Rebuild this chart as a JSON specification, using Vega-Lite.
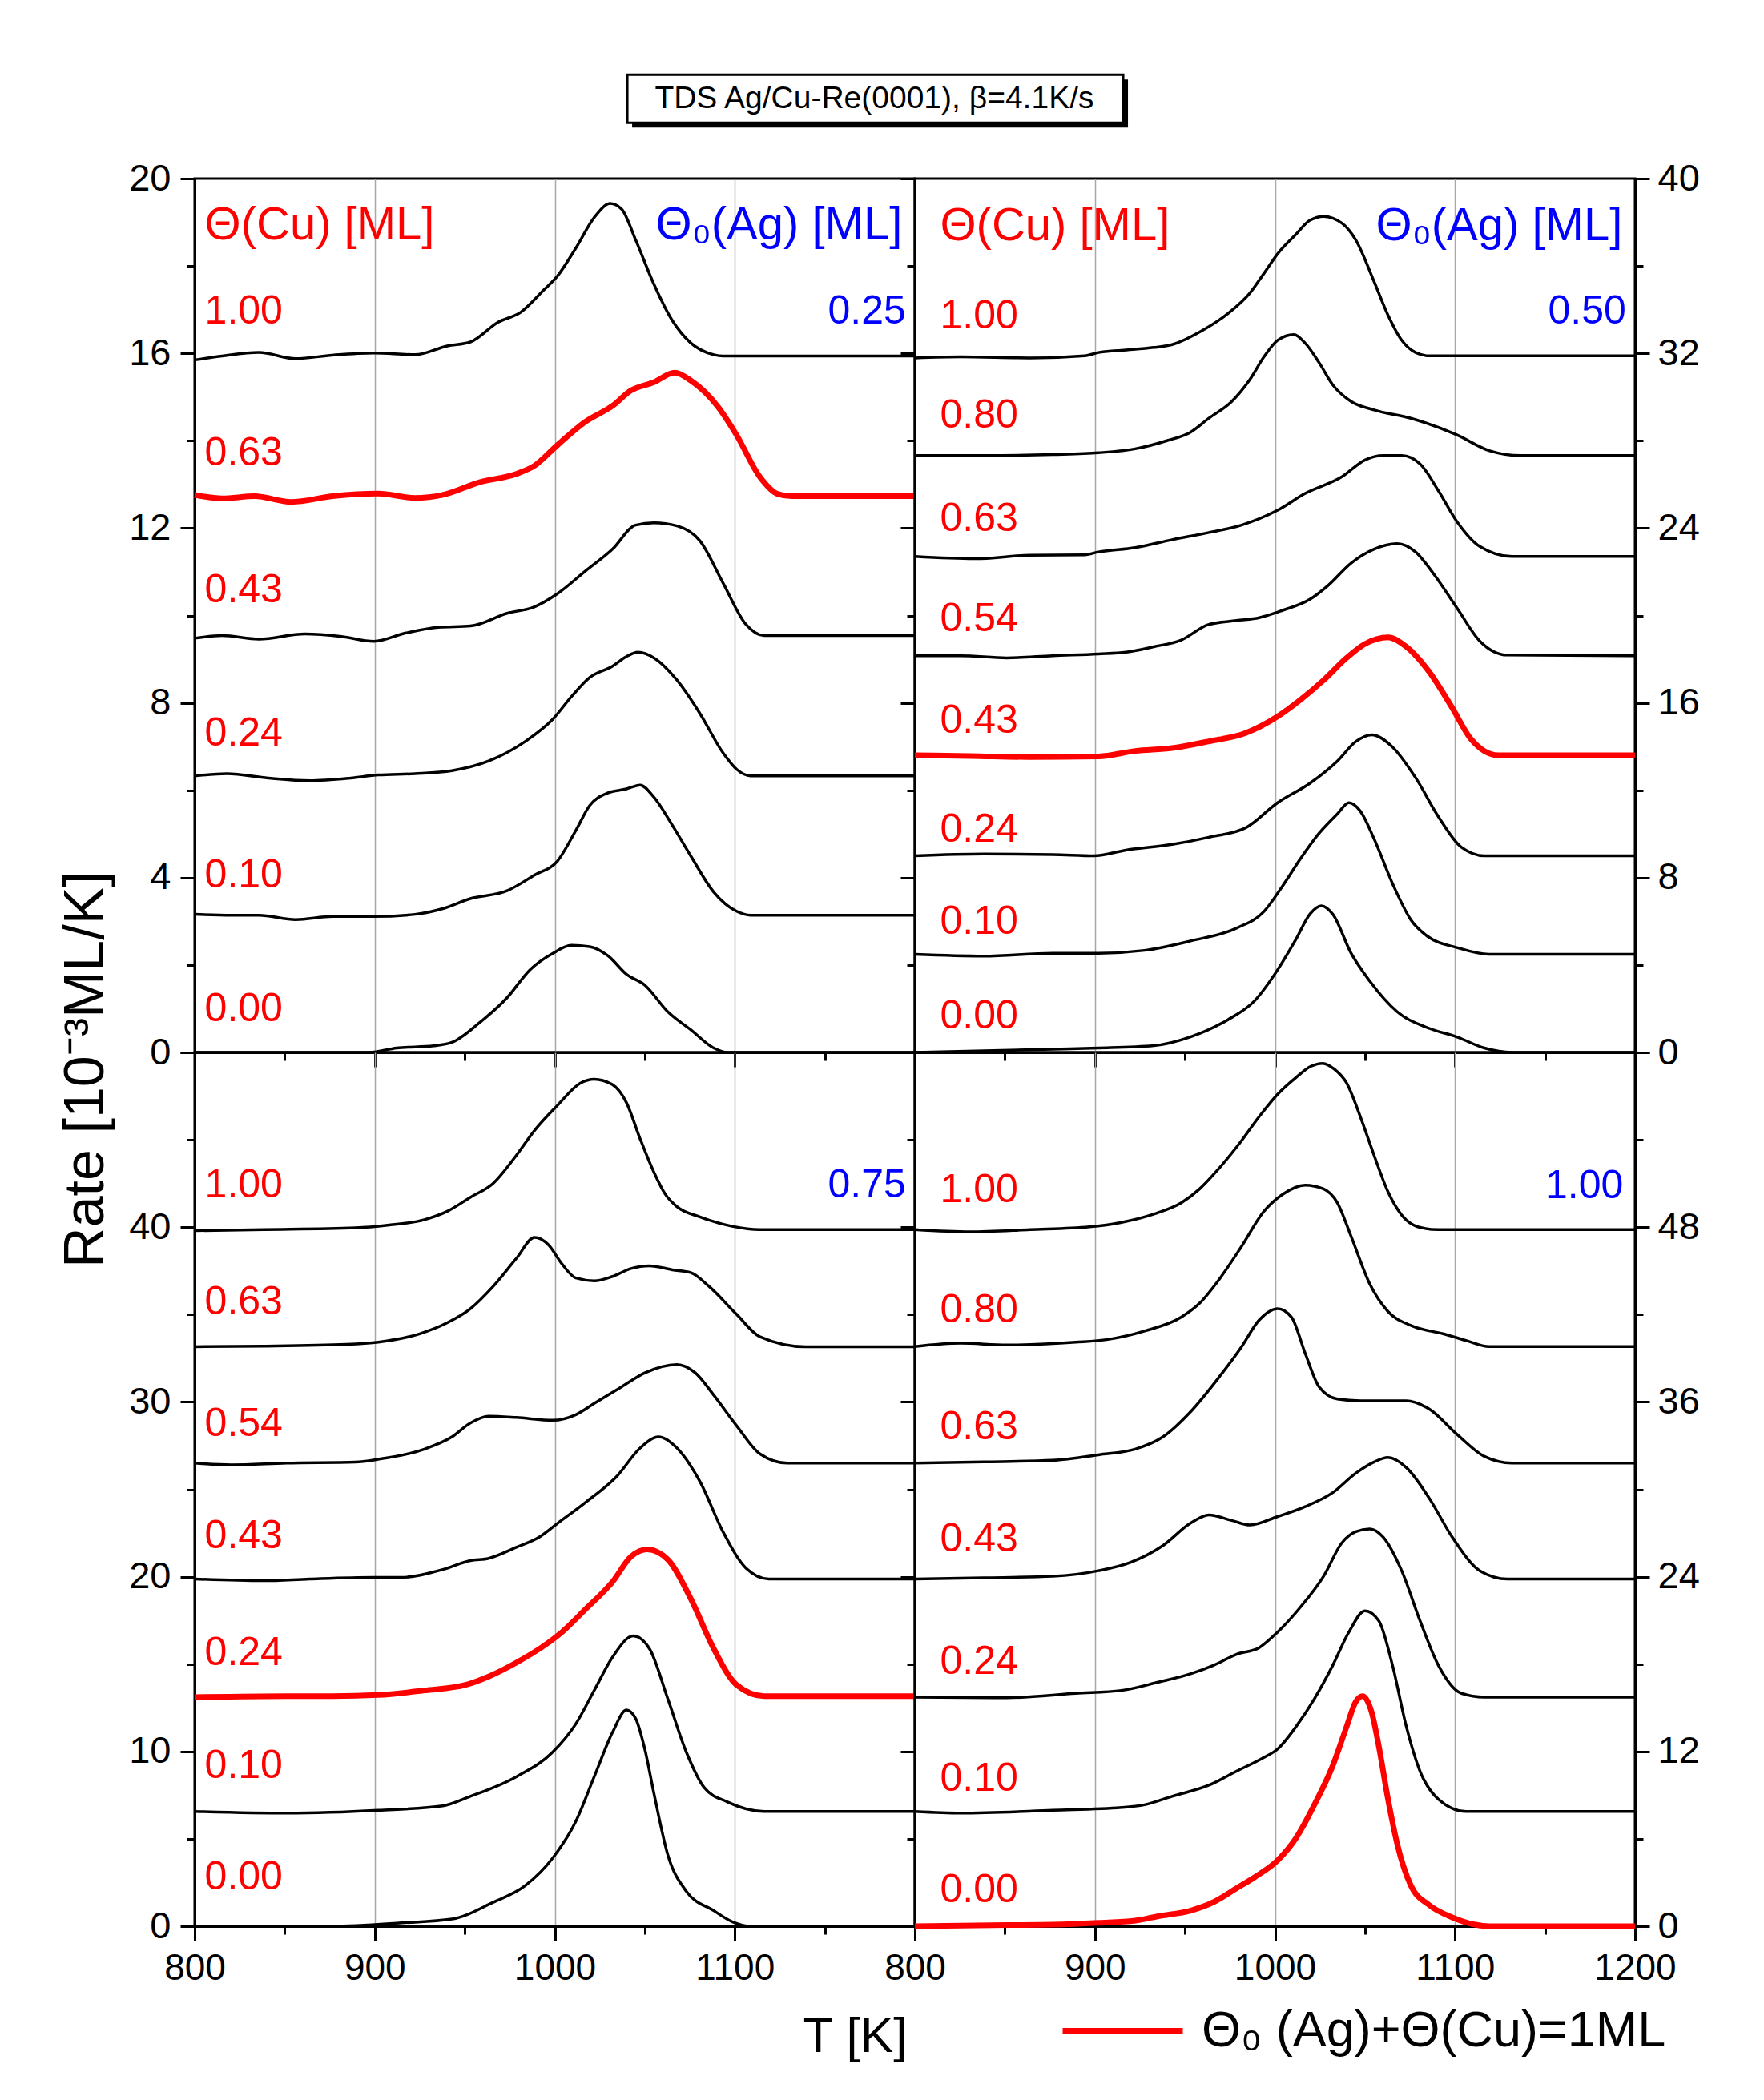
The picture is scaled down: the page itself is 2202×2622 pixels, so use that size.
{
"$schema": "https://vega.github.io/schema/vega-lite/v6.json",
"padding": {"left": 70, "top": 90, "right": 30, "bottom": 5},
"background": "white",
"spacing": 0,
"bounds": "flush",
"columns": 2,
"datasets": {
"tl": [
{"c":"1.00","s":"o","T":800,"r":15.85},{"c":"1.00","s":"o","T":815.3,"r":15.94},{"c":"1.00","s":"o","T":835.7,"r":16.02},{"c":"1.00","s":"o","T":856.1,"r":15.88},{"c":"1.00","s":"o","T":876.5,"r":15.96},{"c":"1.00","s":"o","T":899.5,"r":16.01},{"c":"1.00","s":"o","T":922.4,"r":15.97},{"c":"1.00","s":"o","T":940.3,"r":16.17},{"c":"1.00","s":"o","T":953.1,"r":16.26},{"c":"1.00","s":"o","T":968.4,"r":16.71},{"c":"1.00","s":"o","T":981.1,"r":16.94},{"c":"1.00","s":"o","T":993.9,"r":17.45},{"c":"1.00","s":"o","T":1001.5,"r":17.77},{"c":"1.00","s":"o","T":1011.7,"r":18.41},{"c":"1.00","s":"o","T":1021.9,"r":19.11},{"c":"1.00","s":"o","T":1030.9,"r":19.43},{"c":"1.00","s":"o","T":1037.2,"r":19.3},{"c":"1.00","s":"o","T":1044.9,"r":18.6},{"c":"1.00","s":"o","T":1055.1,"r":17.58},{"c":"1.00","s":"o","T":1065.3,"r":16.75},{"c":"1.00","s":"o","T":1075.5,"r":16.24},{"c":"1.00","s":"o","T":1088.3,"r":15.97},{"c":"1.00","s":"o","T":1093.4,"r":15.94},{"c":"1.00","s":"o","T":1200,"r":15.94},
{"c":"0.63","s":"1ML","T":800,"r":12.76},{"c":"0.63","s":"1ML","T":815.3,"r":12.68},{"c":"0.63","s":"1ML","T":833.2,"r":12.73},{"c":"0.63","s":"1ML","T":853.6,"r":12.6},{"c":"0.63","s":"1ML","T":876.5,"r":12.73},{"c":"0.63","s":"1ML","T":902,"r":12.79},{"c":"0.63","s":"1ML","T":922.4,"r":12.69},{"c":"0.63","s":"1ML","T":937.8,"r":12.76},{"c":"0.63","s":"1ML","T":958.2,"r":13.05},{"c":"0.63","s":"1ML","T":978.6,"r":13.24},{"c":"0.63","s":"1ML","T":988.8,"r":13.43},{"c":"0.63","s":"1ML","T":1001.5,"r":13.9},{"c":"0.63","s":"1ML","T":1016.8,"r":14.43},{"c":"0.63","s":"1ML","T":1032.1,"r":14.8},{"c":"0.63","s":"1ML","T":1042.3,"r":15.15},{"c":"0.63","s":"1ML","T":1055.1,"r":15.34},{"c":"0.63","s":"1ML","T":1066.6,"r":15.56},{"c":"0.63","s":"1ML","T":1075.5,"r":15.38},{"c":"0.63","s":"1ML","T":1090.8,"r":14.77},{"c":"0.63","s":"1ML","T":1101,"r":14.13},{"c":"0.63","s":"1ML","T":1113.8,"r":13.18},{"c":"0.63","s":"1ML","T":1124,"r":12.78},{"c":"0.63","s":"1ML","T":1131.6,"r":12.73},{"c":"0.63","s":"1ML","T":1200,"r":12.73},
{"c":"0.43","s":"o","T":800,"r":9.48},{"c":"0.43","s":"o","T":815.3,"r":9.54},{"c":"0.43","s":"o","T":835.7,"r":9.46},{"c":"0.43","s":"o","T":861.2,"r":9.58},{"c":"0.43","s":"o","T":881.6,"r":9.52},{"c":"0.43","s":"o","T":899.5,"r":9.41},{"c":"0.43","s":"o","T":917.3,"r":9.6},{"c":"0.43","s":"o","T":935.2,"r":9.73},{"c":"0.43","s":"o","T":953.1,"r":9.76},{"c":"0.43","s":"o","T":973.5,"r":10.05},{"c":"0.43","s":"o","T":988.8,"r":10.2},{"c":"0.43","s":"o","T":1001.5,"r":10.5},{"c":"0.43","s":"o","T":1016.8,"r":11.01},{"c":"0.43","s":"o","T":1032.1,"r":11.52},{"c":"0.43","s":"o","T":1044.9,"r":12.07},{"c":"0.43","s":"o","T":1055.1,"r":12.12},{"c":"0.43","s":"o","T":1067.9,"r":12.05},{"c":"0.43","s":"o","T":1080.6,"r":11.71},{"c":"0.43","s":"o","T":1093.4,"r":10.75},{"c":"0.43","s":"o","T":1106.1,"r":9.8},{"c":"0.43","s":"o","T":1116.3,"r":9.54},{"c":"0.43","s":"o","T":1200,"r":9.54},
{"c":"0.24","s":"o","T":800,"r":6.33},{"c":"0.24","s":"o","T":817.9,"r":6.38},{"c":"0.24","s":"o","T":840.8,"r":6.28},{"c":"0.24","s":"o","T":863.8,"r":6.22},{"c":"0.24","s":"o","T":886.7,"r":6.28},{"c":"0.24","s":"o","T":902,"r":6.35},{"c":"0.24","s":"o","T":922.4,"r":6.38},{"c":"0.24","s":"o","T":942.9,"r":6.45},{"c":"0.24","s":"o","T":963.3,"r":6.67},{"c":"0.24","s":"o","T":983.7,"r":7.12},{"c":"0.24","s":"o","T":999,"r":7.63},{"c":"0.24","s":"o","T":1009.2,"r":8.14},{"c":"0.24","s":"o","T":1019.4,"r":8.58},{"c":"0.24","s":"o","T":1032.1,"r":8.84},{"c":"0.24","s":"o","T":1039.8,"r":9.06},{"c":"0.24","s":"o","T":1046.2,"r":9.16},{"c":"0.24","s":"o","T":1055.1,"r":9.03},{"c":"0.24","s":"o","T":1067.9,"r":8.52},{"c":"0.24","s":"o","T":1080.6,"r":7.76},{"c":"0.24","s":"o","T":1093.4,"r":6.86},{"c":"0.24","s":"o","T":1101,"r":6.48},{"c":"0.24","s":"o","T":1108.7,"r":6.33},{"c":"0.24","s":"o","T":1200,"r":6.33},
{"c":"0.10","s":"o","T":800,"r":3.16},{"c":"0.10","s":"o","T":820.4,"r":3.14},{"c":"0.10","s":"o","T":835.7,"r":3.14},{"c":"0.10","s":"o","T":856.1,"r":3.04},{"c":"0.10","s":"o","T":876.5,"r":3.11},{"c":"0.10","s":"o","T":899.5,"r":3.11},{"c":"0.10","s":"o","T":922.4,"r":3.16},{"c":"0.10","s":"o","T":937.8,"r":3.29},{"c":"0.10","s":"o","T":953.1,"r":3.52},{"c":"0.10","s":"o","T":973.5,"r":3.7},{"c":"0.10","s":"o","T":988.8,"r":4.06},{"c":"0.10","s":"o","T":1001.5,"r":4.38},{"c":"0.10","s":"o","T":1011.7,"r":5.08},{"c":"0.10","s":"o","T":1019.4,"r":5.65},{"c":"0.10","s":"o","T":1029.6,"r":5.94},{"c":"0.10","s":"o","T":1039.8,"r":6.03},{"c":"0.10","s":"o","T":1047.4,"r":6.12},{"c":"0.10","s":"o","T":1055.1,"r":5.84},{"c":"0.10","s":"o","T":1065.3,"r":5.2},{"c":"0.10","s":"o","T":1075.5,"r":4.5},{"c":"0.10","s":"o","T":1088.3,"r":3.67},{"c":"0.10","s":"o","T":1101,"r":3.23},{"c":"0.10","s":"o","T":1108.7,"r":3.14},{"c":"0.10","s":"o","T":1200,"r":3.14},
{"c":"0.00","s":"o","T":800,"r":0},{"c":"0.00","s":"o","T":863.8,"r":0},{"c":"0.00","s":"o","T":896.9,"r":0},{"c":"0.00","s":"o","T":912.2,"r":0.1},{"c":"0.00","s":"o","T":932.7,"r":0.15},{"c":"0.00","s":"o","T":942.9,"r":0.23},{"c":"0.00","s":"o","T":958.2,"r":0.68},{"c":"0.00","s":"o","T":973.5,"r":1.25},{"c":"0.00","s":"o","T":986.2,"r":1.89},{"c":"0.00","s":"o","T":999,"r":2.27},{"c":"0.00","s":"o","T":1009.2,"r":2.45},{"c":"0.00","s":"o","T":1019.4,"r":2.42},{"c":"0.00","s":"o","T":1029.6,"r":2.21},{"c":"0.00","s":"o","T":1039.8,"r":1.79},{"c":"0.00","s":"o","T":1050,"r":1.54},{"c":"0.00","s":"o","T":1062.8,"r":0.93},{"c":"0.00","s":"o","T":1075.5,"r":0.52},{"c":"0.00","s":"o","T":1088.3,"r":0.1},{"c":"0.00","s":"o","T":1095.9,"r":0},{"c":"0.00","s":"o","T":1200,"r":0}
],
"tr": [
{"c":"1.00","s":"o","T":800,"r":31.79},{"c":"1.00","s":"o","T":825.5,"r":31.84},{"c":"1.00","s":"o","T":863.8,"r":31.79},{"c":"1.00","s":"o","T":894.4,"r":31.89},{"c":"1.00","s":"o","T":902,"r":32.04},{"c":"1.00","s":"o","T":914.8,"r":32.14},{"c":"1.00","s":"o","T":932.7,"r":32.27},{"c":"1.00","s":"o","T":942.9,"r":32.4},{"c":"1.00","s":"o","T":958.2,"r":32.98},{"c":"1.00","s":"o","T":973.5,"r":33.8},{"c":"1.00","s":"o","T":986.2,"r":34.77},{"c":"1.00","s":"o","T":993.9,"r":35.66},{"c":"1.00","s":"o","T":1001.5,"r":36.56},{"c":"1.00","s":"o","T":1011.7,"r":37.45},{"c":"1.00","s":"o","T":1019.4,"r":38.09},{"c":"1.00","s":"o","T":1027,"r":38.27},{"c":"1.00","s":"o","T":1037.2,"r":37.96},{"c":"1.00","s":"o","T":1044.9,"r":37.19},{"c":"1.00","s":"o","T":1055.1,"r":35.28},{"c":"1.00","s":"o","T":1062.8,"r":33.75},{"c":"1.00","s":"o","T":1070.4,"r":32.6},{"c":"1.00","s":"o","T":1078.1,"r":32.04},{"c":"1.00","s":"o","T":1085.7,"r":31.89},{"c":"1.00","s":"o","T":1200,"r":31.89},
{"c":"0.80","s":"o","T":800,"r":27.32},{"c":"0.80","s":"o","T":838.3,"r":27.32},{"c":"0.80","s":"o","T":876.5,"r":27.37},{"c":"0.80","s":"o","T":902,"r":27.45},{"c":"0.80","s":"o","T":922.4,"r":27.63},{"c":"0.80","s":"o","T":940.3,"r":28.01},{"c":"0.80","s":"o","T":953.1,"r":28.39},{"c":"0.80","s":"o","T":963.3,"r":29.03},{"c":"0.80","s":"o","T":976,"r":29.8},{"c":"0.80","s":"o","T":986.2,"r":30.82},{"c":"0.80","s":"o","T":993.9,"r":31.84},{"c":"0.80","s":"o","T":1001.5,"r":32.6},{"c":"0.80","s":"o","T":1010.5,"r":32.86},{"c":"0.80","s":"o","T":1016.8,"r":32.47},{"c":"0.80","s":"o","T":1024.5,"r":31.58},{"c":"0.80","s":"o","T":1032.1,"r":30.56},{"c":"0.80","s":"o","T":1042.3,"r":29.8},{"c":"0.80","s":"o","T":1055.1,"r":29.41},{"c":"0.80","s":"o","T":1075.5,"r":29.03},{"c":"0.80","s":"o","T":1101,"r":28.27},{"c":"0.80","s":"o","T":1118.9,"r":27.55},{"c":"0.80","s":"o","T":1136.7,"r":27.32},{"c":"0.80","s":"o","T":1200,"r":27.32},
{"c":"0.63","s":"o","T":800,"r":22.7},{"c":"0.63","s":"o","T":833.2,"r":22.6},{"c":"0.63","s":"o","T":863.8,"r":22.76},{"c":"0.63","s":"o","T":894.4,"r":22.78},{"c":"0.63","s":"o","T":902,"r":22.91},{"c":"0.63","s":"o","T":922.4,"r":23.11},{"c":"0.63","s":"o","T":942.9,"r":23.47},{"c":"0.63","s":"o","T":963.3,"r":23.8},{"c":"0.63","s":"o","T":981.1,"r":24.13},{"c":"0.63","s":"o","T":1001.5,"r":24.82},{"c":"0.63","s":"o","T":1016.8,"r":25.59},{"c":"0.63","s":"o","T":1037.2,"r":26.35},{"c":"0.63","s":"o","T":1050,"r":27.12},{"c":"0.63","s":"o","T":1060.2,"r":27.32},{"c":"0.63","s":"o","T":1070.4,"r":27.32},{"c":"0.63","s":"o","T":1080.6,"r":26.94},{"c":"0.63","s":"o","T":1090.8,"r":25.71},{"c":"0.63","s":"o","T":1101,"r":24.31},{"c":"0.63","s":"o","T":1113.8,"r":23.16},{"c":"0.63","s":"o","T":1131.6,"r":22.7},{"c":"0.63","s":"o","T":1200,"r":22.7},
{"c":"0.54","s":"o","T":800,"r":18.16},{"c":"0.54","s":"o","T":825.5,"r":18.16},{"c":"0.54","s":"o","T":851,"r":18.06},{"c":"0.54","s":"o","T":876.5,"r":18.16},{"c":"0.54","s":"o","T":902,"r":18.24},{"c":"0.54","s":"o","T":917.3,"r":18.32},{"c":"0.54","s":"o","T":932.7,"r":18.57},{"c":"0.54","s":"o","T":948,"r":18.88},{"c":"0.54","s":"o","T":963.3,"r":19.59},{"c":"0.54","s":"o","T":978.6,"r":19.77},{"c":"0.54","s":"o","T":991.3,"r":19.9},{"c":"0.54","s":"o","T":1004.1,"r":20.23},{"c":"0.54","s":"o","T":1019.4,"r":20.74},{"c":"0.54","s":"o","T":1029.6,"r":21.38},{"c":"0.54","s":"o","T":1042.3,"r":22.4},{"c":"0.54","s":"o","T":1055.1,"r":23.04},{"c":"0.54","s":"o","T":1067.9,"r":23.29},{"c":"0.54","s":"o","T":1078.1,"r":22.91},{"c":"0.54","s":"o","T":1088.3,"r":21.89},{"c":"0.54","s":"o","T":1101,"r":20.36},{"c":"0.54","s":"o","T":1113.8,"r":18.83},{"c":"0.54","s":"o","T":1129.1,"r":18.19},{"c":"0.54","s":"o","T":1200,"r":18.16},
{"c":"0.43","s":"1ML","T":800,"r":13.6},{"c":"0.43","s":"1ML","T":830.6,"r":13.57},{"c":"0.43","s":"1ML","T":863.8,"r":13.52},{"c":"0.43","s":"1ML","T":902,"r":13.55},{"c":"0.43","s":"1ML","T":922.4,"r":13.8},{"c":"0.43","s":"1ML","T":942.9,"r":13.93},{"c":"0.43","s":"1ML","T":963.3,"r":14.24},{"c":"0.43","s":"1ML","T":983.7,"r":14.62},{"c":"0.43","s":"1ML","T":1001.5,"r":15.38},{"c":"0.43","s":"1ML","T":1014.3,"r":16.15},{"c":"0.43","s":"1ML","T":1027,"r":17.04},{"c":"0.43","s":"1ML","T":1039.8,"r":18.06},{"c":"0.43","s":"1ML","T":1050,"r":18.7},{"c":"0.43","s":"1ML","T":1062.8,"r":19.0},{"c":"0.43","s":"1ML","T":1073,"r":18.57},{"c":"0.43","s":"1ML","T":1085.7,"r":17.42},{"c":"0.43","s":"1ML","T":1098.5,"r":15.77},{"c":"0.43","s":"1ML","T":1108.7,"r":14.36},{"c":"0.43","s":"1ML","T":1124,"r":13.6},{"c":"0.43","s":"1ML","T":1200,"r":13.6},
{"c":"0.24","s":"o","T":800,"r":9.0},{"c":"0.24","s":"o","T":838.3,"r":9.08},{"c":"0.24","s":"o","T":876.5,"r":9.06},{"c":"0.24","s":"o","T":899.5,"r":9.0},{"c":"0.24","s":"o","T":917.3,"r":9.26},{"c":"0.24","s":"o","T":942.9,"r":9.52},{"c":"0.24","s":"o","T":963.3,"r":9.85},{"c":"0.24","s":"o","T":983.7,"r":10.28},{"c":"0.24","s":"o","T":1001.5,"r":11.43},{"c":"0.24","s":"o","T":1019.4,"r":12.32},{"c":"0.24","s":"o","T":1034.7,"r":13.34},{"c":"0.24","s":"o","T":1044.9,"r":14.23},{"c":"0.24","s":"o","T":1053.8,"r":14.54},{"c":"0.24","s":"o","T":1065.3,"r":13.98},{"c":"0.24","s":"o","T":1078.1,"r":12.58},{"c":"0.24","s":"o","T":1090.8,"r":10.79},{"c":"0.24","s":"o","T":1103.6,"r":9.39},{"c":"0.24","s":"o","T":1116.3,"r":9.0},{"c":"0.24","s":"o","T":1200,"r":9.0},
{"c":"0.10","s":"o","T":800,"r":4.49},{"c":"0.10","s":"o","T":838.3,"r":4.41},{"c":"0.10","s":"o","T":876.5,"r":4.54},{"c":"0.10","s":"o","T":902,"r":4.54},{"c":"0.10","s":"o","T":927.6,"r":4.67},{"c":"0.10","s":"o","T":953.1,"r":5.1},{"c":"0.10","s":"o","T":978.6,"r":5.69},{"c":"0.10","s":"o","T":993.9,"r":6.45},{"c":"0.10","s":"o","T":1004.1,"r":7.6},{"c":"0.10","s":"o","T":1014.3,"r":8.88},{"c":"0.10","s":"o","T":1024.5,"r":10.03},{"c":"0.10","s":"o","T":1034.7,"r":10.92},{"c":"0.10","s":"o","T":1041.1,"r":11.43},{"c":"0.10","s":"o","T":1047.4,"r":11.05},{"c":"0.10","s":"o","T":1055.1,"r":9.77},{"c":"0.10","s":"o","T":1065.3,"r":7.73},{"c":"0.10","s":"o","T":1075.5,"r":6.07},{"c":"0.10","s":"o","T":1085.7,"r":5.26},{"c":"0.10","s":"o","T":1101,"r":4.8},{"c":"0.10","s":"o","T":1118.9,"r":4.49},{"c":"0.10","s":"o","T":1200,"r":4.49},
{"c":"0.00","s":"o","T":800,"r":0},{"c":"0.00","s":"o","T":843.4,"r":0.08},{"c":"0.00","s":"o","T":876.5,"r":0.15},{"c":"0.00","s":"o","T":902,"r":0.2},{"c":"0.00","s":"o","T":932.7,"r":0.31},{"c":"0.00","s":"o","T":953.1,"r":0.71},{"c":"0.00","s":"o","T":973.5,"r":1.48},{"c":"0.00","s":"o","T":988.8,"r":2.37},{"c":"0.00","s":"o","T":1001.5,"r":3.78},{"c":"0.00","s":"o","T":1011.7,"r":5.18},{"c":"0.00","s":"o","T":1019.4,"r":6.33},{"c":"0.00","s":"o","T":1025.8,"r":6.71},{"c":"0.00","s":"o","T":1032.1,"r":6.33},{"c":"0.00","s":"o","T":1042.3,"r":4.54},{"c":"0.00","s":"o","T":1052.6,"r":3.27},{"c":"0.00","s":"o","T":1067.9,"r":1.86},{"c":"0.00","s":"o","T":1085.7,"r":1.1},{"c":"0.00","s":"o","T":1101,"r":0.71},{"c":"0.00","s":"o","T":1116.3,"r":0.2},{"c":"0.00","s":"o","T":1131.6,"r":0},{"c":"0.00","s":"o","T":1200,"r":0}
],
"bl": [
{"c":"1.00","s":"o","T":800,"r":39.8},{"c":"1.00","s":"o","T":838.3,"r":39.86},{"c":"1.00","s":"o","T":889.3,"r":39.96},{"c":"1.00","s":"o","T":907.1,"r":40.11},{"c":"1.00","s":"o","T":927.6,"r":40.43},{"c":"1.00","s":"o","T":940.3,"r":40.91},{"c":"1.00","s":"o","T":953.1,"r":41.71},{"c":"1.00","s":"o","T":965.8,"r":42.51},{"c":"1.00","s":"o","T":978.6,"r":44.1},{"c":"1.00","s":"o","T":988.8,"r":45.54},{"c":"1.00","s":"o","T":1001.5,"r":46.97},{"c":"1.00","s":"o","T":1014.3,"r":48.25},{"c":"1.00","s":"o","T":1021.9,"r":48.47},{"c":"1.00","s":"o","T":1032.1,"r":48.15},{"c":"1.00","s":"o","T":1039.8,"r":47.13},{"c":"1.00","s":"o","T":1047.4,"r":45.06},{"c":"1.00","s":"o","T":1055.1,"r":43.14},{"c":"1.00","s":"o","T":1061.5,"r":41.87},{"c":"1.00","s":"o","T":1067.9,"r":41.17},{"c":"1.00","s":"o","T":1080.6,"r":40.59},{"c":"1.00","s":"o","T":1098.5,"r":40.05},{"c":"1.00","s":"o","T":1113.8,"r":39.86},{"c":"1.00","s":"o","T":1200,"r":39.86},
{"c":"0.63","s":"o","T":800,"r":33.16},{"c":"0.63","s":"o","T":838.3,"r":33.19},{"c":"0.63","s":"o","T":884.2,"r":33.29},{"c":"0.63","s":"o","T":902,"r":33.42},{"c":"0.63","s":"o","T":925,"r":33.9},{"c":"0.63","s":"o","T":940.3,"r":34.53},{"c":"0.63","s":"o","T":953.1,"r":35.33},{"c":"0.63","s":"o","T":965.8,"r":36.61},{"c":"0.63","s":"o","T":978.6,"r":38.2},{"c":"0.63","s":"o","T":988.8,"r":39.41},{"c":"0.63","s":"o","T":996.4,"r":39.0},{"c":"0.63","s":"o","T":1004.1,"r":37.88},{"c":"0.63","s":"o","T":1011.7,"r":37.09},{"c":"0.63","s":"o","T":1021.9,"r":36.93},{"c":"0.63","s":"o","T":1032.1,"r":37.18},{"c":"0.63","s":"o","T":1042.3,"r":37.63},{"c":"0.63","s":"o","T":1052.6,"r":37.79},{"c":"0.63","s":"o","T":1065.3,"r":37.56},{"c":"0.63","s":"o","T":1075.5,"r":37.4},{"c":"0.63","s":"o","T":1085.7,"r":36.61},{"c":"0.63","s":"o","T":1101,"r":35.01},{"c":"0.63","s":"o","T":1113.8,"r":33.74},{"c":"0.63","s":"o","T":1139.3,"r":33.16},{"c":"0.63","s":"o","T":1200,"r":33.16},
{"c":"0.54","s":"o","T":800,"r":26.5},{"c":"0.54","s":"o","T":820.4,"r":26.4},{"c":"0.54","s":"o","T":851,"r":26.5},{"c":"0.54","s":"o","T":889.3,"r":26.56},{"c":"0.54","s":"o","T":902,"r":26.72},{"c":"0.54","s":"o","T":927.6,"r":27.3},{"c":"0.54","s":"o","T":942.9,"r":28.0},{"c":"0.54","s":"o","T":953.1,"r":28.79},{"c":"0.54","s":"o","T":963.3,"r":29.18},{"c":"0.54","s":"o","T":978.6,"r":29.11},{"c":"0.54","s":"o","T":999,"r":28.95},{"c":"0.54","s":"o","T":1011.7,"r":29.27},{"c":"0.54","s":"o","T":1021.9,"r":29.91},{"c":"0.54","s":"o","T":1037.2,"r":30.87},{"c":"0.54","s":"o","T":1050,"r":31.66},{"c":"0.54","s":"o","T":1067.9,"r":32.14},{"c":"0.54","s":"o","T":1078.1,"r":31.66},{"c":"0.54","s":"o","T":1088.3,"r":30.39},{"c":"0.54","s":"o","T":1101,"r":28.64},{"c":"0.54","s":"o","T":1113.8,"r":27.04},{"c":"0.54","s":"o","T":1129.1,"r":26.5},{"c":"0.54","s":"o","T":1200,"r":26.5},
{"c":"0.43","s":"o","T":800,"r":19.87},{"c":"0.43","s":"o","T":838.3,"r":19.77},{"c":"0.43","s":"o","T":863.8,"r":19.87},{"c":"0.43","s":"o","T":899.5,"r":19.96},{"c":"0.43","s":"o","T":914.8,"r":19.96},{"c":"0.43","s":"o","T":937.8,"r":20.41},{"c":"0.43","s":"o","T":953.1,"r":20.92},{"c":"0.43","s":"o","T":963.3,"r":21.05},{"c":"0.43","s":"o","T":978.6,"r":21.68},{"c":"0.43","s":"o","T":991.3,"r":22.26},{"c":"0.43","s":"o","T":1001.5,"r":23.05},{"c":"0.43","s":"o","T":1016.8,"r":24.23},{"c":"0.43","s":"o","T":1034.7,"r":25.77},{"c":"0.43","s":"o","T":1047.4,"r":27.36},{"c":"0.43","s":"o","T":1057.7,"r":28.0},{"c":"0.43","s":"o","T":1067.9,"r":27.36},{"c":"0.43","s":"o","T":1080.6,"r":25.45},{"c":"0.43","s":"o","T":1093.4,"r":22.58},{"c":"0.43","s":"o","T":1106.1,"r":20.5},{"c":"0.43","s":"o","T":1118.9,"r":19.87},{"c":"0.43","s":"o","T":1200,"r":19.87},
{"c":"0.24","s":"1ML","T":800,"r":13.11},{"c":"0.24","s":"1ML","T":851,"r":13.17},{"c":"0.24","s":"1ML","T":876.5,"r":13.17},{"c":"0.24","s":"1ML","T":902,"r":13.23},{"c":"0.24","s":"1ML","T":927.6,"r":13.49},{"c":"0.24","s":"1ML","T":950.5,"r":13.81},{"c":"0.24","s":"1ML","T":963.3,"r":14.29},{"c":"0.24","s":"1ML","T":978.6,"r":15.08},{"c":"0.24","s":"1ML","T":993.9,"r":16.04},{"c":"0.24","s":"1ML","T":1004.1,"r":16.84},{"c":"0.24","s":"1ML","T":1016.8,"r":18.11},{"c":"0.24","s":"1ML","T":1032.1,"r":19.71},{"c":"0.24","s":"1ML","T":1042.3,"r":21.14},{"c":"0.24","s":"1ML","T":1051.3,"r":21.56},{"c":"0.24","s":"1ML","T":1062.8,"r":20.98},{"c":"0.24","s":"1ML","T":1075.5,"r":18.75},{"c":"0.24","s":"1ML","T":1088.3,"r":15.88},{"c":"0.24","s":"1ML","T":1101,"r":13.81},{"c":"0.24","s":"1ML","T":1116.3,"r":13.17},{"c":"0.24","s":"1ML","T":1200,"r":13.17},
{"c":"0.10","s":"o","T":800,"r":6.57},{"c":"0.10","s":"o","T":851,"r":6.47},{"c":"0.10","s":"o","T":902,"r":6.63},{"c":"0.10","s":"o","T":937.8,"r":6.89},{"c":"0.10","s":"o","T":953.1,"r":7.43},{"c":"0.10","s":"o","T":978.6,"r":8.55},{"c":"0.10","s":"o","T":999,"r":9.98},{"c":"0.10","s":"o","T":1011.7,"r":11.58},{"c":"0.10","s":"o","T":1021.9,"r":13.49},{"c":"0.10","s":"o","T":1032.1,"r":15.4},{"c":"0.10","s":"o","T":1043.6,"r":16.61},{"c":"0.10","s":"o","T":1052.6,"r":15.88},{"c":"0.10","s":"o","T":1062.8,"r":13.01},{"c":"0.10","s":"o","T":1073,"r":9.98},{"c":"0.10","s":"o","T":1083.2,"r":7.91},{"c":"0.10","s":"o","T":1095.9,"r":7.11},{"c":"0.10","s":"o","T":1116.3,"r":6.57},{"c":"0.10","s":"o","T":1200,"r":6.57},
{"c":"0.00","s":"o","T":800,"r":0},{"c":"0.00","s":"o","T":876.5,"r":0},{"c":"0.00","s":"o","T":914.8,"r":0.19},{"c":"0.00","s":"o","T":942.9,"r":0.41},{"c":"0.00","s":"o","T":965.8,"r":1.37},{"c":"0.00","s":"o","T":983.7,"r":2.33},{"c":"0.00","s":"o","T":999,"r":3.92},{"c":"0.00","s":"o","T":1011.7,"r":6.0},{"c":"0.00","s":"o","T":1021.9,"r":8.55},{"c":"0.00","s":"o","T":1032.1,"r":11.1},{"c":"0.00","s":"o","T":1039.8,"r":12.37},{"c":"0.00","s":"o","T":1044.9,"r":11.89},{"c":"0.00","s":"o","T":1050,"r":10.14},{"c":"0.00","s":"o","T":1055.1,"r":7.59},{"c":"0.00","s":"o","T":1062.8,"r":4.08},{"c":"0.00","s":"o","T":1073,"r":2.01},{"c":"0.00","s":"o","T":1088.3,"r":0.89},{"c":"0.00","s":"o","T":1098.5,"r":0.26},{"c":"0.00","s":"o","T":1108.7,"r":0},{"c":"0.00","s":"o","T":1200,"r":0}
],
"br": [
{"c":"1.00","s":"o","T":800,"r":47.83},{"c":"1.00","s":"o","T":830.6,"r":47.68},{"c":"1.00","s":"o","T":863.8,"r":47.83},{"c":"1.00","s":"o","T":896.9,"r":48.02},{"c":"1.00","s":"o","T":914.8,"r":48.33},{"c":"1.00","s":"o","T":932.7,"r":48.9},{"c":"1.00","s":"o","T":948,"r":49.67},{"c":"1.00","s":"o","T":958.2,"r":50.63},{"c":"1.00","s":"o","T":968.4,"r":51.96},{"c":"1.00","s":"o","T":981.1,"r":53.88},{"c":"1.00","s":"o","T":991.3,"r":55.6},{"c":"1.00","s":"o","T":1001.5,"r":57.13},{"c":"1.00","s":"o","T":1011.7,"r":58.28},{"c":"1.00","s":"o","T":1020,"r":59.05},{"c":"1.00","s":"o","T":1026.5,"r":59.25},{"c":"1.00","s":"o","T":1033,"r":58.85},{"c":"1.00","s":"o","T":1039.8,"r":57.9},{"c":"1.00","s":"o","T":1047.4,"r":55.6},{"c":"1.00","s":"o","T":1055.1,"r":52.92},{"c":"1.00","s":"o","T":1062.8,"r":50.43},{"c":"1.00","s":"o","T":1070.4,"r":48.83},{"c":"1.00","s":"o","T":1080.6,"r":47.98},{"c":"1.00","s":"o","T":1090.8,"r":47.83},{"c":"1.00","s":"o","T":1200,"r":47.83},
{"c":"0.80","s":"o","T":800,"r":39.8},{"c":"0.80","s":"o","T":825.5,"r":40.03},{"c":"0.80","s":"o","T":851,"r":39.91},{"c":"0.80","s":"o","T":889.3,"r":40.1},{"c":"0.80","s":"o","T":907.1,"r":40.29},{"c":"0.80","s":"o","T":927.6,"r":40.87},{"c":"0.80","s":"o","T":948,"r":41.82},{"c":"0.80","s":"o","T":958.2,"r":42.78},{"c":"0.80","s":"o","T":968.4,"r":44.31},{"c":"0.80","s":"o","T":981.1,"r":46.61},{"c":"0.80","s":"o","T":993.9,"r":49.09},{"c":"0.80","s":"o","T":1004.1,"r":50.24},{"c":"0.80","s":"o","T":1016.8,"r":50.89},{"c":"0.80","s":"o","T":1027,"r":50.63},{"c":"0.80","s":"o","T":1034.7,"r":49.67},{"c":"0.80","s":"o","T":1042.3,"r":47.37},{"c":"0.80","s":"o","T":1052.6,"r":44.12},{"c":"0.80","s":"o","T":1062.8,"r":42.21},{"c":"0.80","s":"o","T":1075.5,"r":41.25},{"c":"0.80","s":"o","T":1093.4,"r":40.68},{"c":"0.80","s":"o","T":1106.1,"r":40.22},{"c":"0.80","s":"o","T":1118.9,"r":39.8},{"c":"0.80","s":"o","T":1200,"r":39.8},
{"c":"0.63","s":"o","T":800,"r":31.8},{"c":"0.63","s":"o","T":838.3,"r":31.88},{"c":"0.63","s":"o","T":876.5,"r":31.99},{"c":"0.63","s":"o","T":902,"r":32.37},{"c":"0.63","s":"o","T":922.4,"r":32.76},{"c":"0.63","s":"o","T":937.8,"r":33.6},{"c":"0.63","s":"o","T":953.1,"r":35.32},{"c":"0.63","s":"o","T":968.4,"r":37.61},{"c":"0.63","s":"o","T":981.1,"r":39.72},{"c":"0.63","s":"o","T":991.3,"r":41.63},{"c":"0.63","s":"o","T":1001.5,"r":42.4},{"c":"0.63","s":"o","T":1009.2,"r":41.82},{"c":"0.63","s":"o","T":1016.8,"r":39.34},{"c":"0.63","s":"o","T":1024.5,"r":37.04},{"c":"0.63","s":"o","T":1034.7,"r":36.2},{"c":"0.63","s":"o","T":1047.4,"r":36.08},{"c":"0.63","s":"o","T":1073,"r":36.08},{"c":"0.63","s":"o","T":1085.7,"r":35.51},{"c":"0.63","s":"o","T":1101,"r":33.79},{"c":"0.63","s":"o","T":1116.3,"r":32.26},{"c":"0.63","s":"o","T":1131.6,"r":31.8},{"c":"0.63","s":"o","T":1200,"r":31.8},
{"c":"0.43","s":"o","T":800,"r":23.84},{"c":"0.43","s":"o","T":838.3,"r":23.92},{"c":"0.43","s":"o","T":876.5,"r":24.03},{"c":"0.43","s":"o","T":902,"r":24.41},{"c":"0.43","s":"o","T":919.9,"r":24.99},{"c":"0.43","s":"o","T":937.8,"r":26.14},{"c":"0.43","s":"o","T":953.1,"r":27.67},{"c":"0.43","s":"o","T":963.3,"r":28.24},{"c":"0.43","s":"o","T":976,"r":27.86},{"c":"0.43","s":"o","T":986.2,"r":27.55},{"c":"0.43","s":"o","T":1001.5,"r":28.13},{"c":"0.43","s":"o","T":1016.8,"r":28.81},{"c":"0.43","s":"o","T":1032.1,"r":29.77},{"c":"0.43","s":"o","T":1044.9,"r":31.11},{"c":"0.43","s":"o","T":1055.1,"r":31.88},{"c":"0.43","s":"o","T":1062.8,"r":32.18},{"c":"0.43","s":"o","T":1073,"r":31.49},{"c":"0.43","s":"o","T":1085.7,"r":29.39},{"c":"0.43","s":"o","T":1098.5,"r":26.71},{"c":"0.43","s":"o","T":1113.8,"r":24.41},{"c":"0.43","s":"o","T":1129.1,"r":23.84},{"c":"0.43","s":"o","T":1200,"r":23.84},
{"c":"0.24","s":"o","T":800,"r":15.73},{"c":"0.24","s":"o","T":851,"r":15.69},{"c":"0.24","s":"o","T":889.3,"r":15.99},{"c":"0.24","s":"o","T":914.8,"r":16.19},{"c":"0.24","s":"o","T":935.2,"r":16.76},{"c":"0.24","s":"o","T":953.1,"r":17.33},{"c":"0.24","s":"o","T":965.8,"r":17.91},{"c":"0.24","s":"o","T":978.6,"r":18.67},{"c":"0.24","s":"o","T":991.3,"r":19.13},{"c":"0.24","s":"o","T":1001.5,"r":20.2},{"c":"0.24","s":"o","T":1014.3,"r":21.93},{"c":"0.24","s":"o","T":1027,"r":24.03},{"c":"0.24","s":"o","T":1037.2,"r":26.33},{"c":"0.24","s":"o","T":1044.9,"r":27.09},{"c":"0.24","s":"o","T":1052.6,"r":27.28},{"c":"0.24","s":"o","T":1060.2,"r":26.71},{"c":"0.24","s":"o","T":1070.4,"r":24.41},{"c":"0.24","s":"o","T":1080.6,"r":20.97},{"c":"0.24","s":"o","T":1090.8,"r":17.91},{"c":"0.24","s":"o","T":1103.6,"r":15.99},{"c":"0.24","s":"o","T":1116.3,"r":15.73},{"c":"0.24","s":"o","T":1200,"r":15.73},
{"c":"0.10","s":"o","T":800,"r":7.88},{"c":"0.10","s":"o","T":825.5,"r":7.77},{"c":"0.10","s":"o","T":876.5,"r":7.96},{"c":"0.10","s":"o","T":914.8,"r":8.15},{"c":"0.10","s":"o","T":927.6,"r":8.34},{"c":"0.10","s":"o","T":942.9,"r":8.92},{"c":"0.10","s":"o","T":963.3,"r":9.68},{"c":"0.10","s":"o","T":978.6,"r":10.64},{"c":"0.10","s":"o","T":993.9,"r":11.59},{"c":"0.10","s":"o","T":1001.5,"r":12.17},{"c":"0.10","s":"o","T":1011.7,"r":13.7},{"c":"0.10","s":"o","T":1021.9,"r":15.61},{"c":"0.10","s":"o","T":1032.1,"r":17.91},{"c":"0.10","s":"o","T":1041.1,"r":20.2},{"c":"0.10","s":"o","T":1050,"r":21.66},{"c":"0.10","s":"o","T":1057.7,"r":20.97},{"c":"0.10","s":"o","T":1065.3,"r":17.91},{"c":"0.10","s":"o","T":1073,"r":13.7},{"c":"0.10","s":"o","T":1080.6,"r":10.64},{"c":"0.10","s":"o","T":1090.8,"r":8.72},{"c":"0.10","s":"o","T":1106.1,"r":7.88},{"c":"0.10","s":"o","T":1200,"r":7.88},
{"c":"0.00","s":"1ML","T":800,"r":0},{"c":"0.00","s":"1ML","T":851,"r":0.08},{"c":"0.00","s":"1ML","T":876.5,"r":0.11},{"c":"0.00","s":"1ML","T":902,"r":0.23},{"c":"0.00","s":"1ML","T":922.4,"r":0.38},{"c":"0.00","s":"1ML","T":935.2,"r":0.69},{"c":"0.00","s":"1ML","T":953.1,"r":1.07},{"c":"0.00","s":"1ML","T":965.8,"r":1.65},{"c":"0.00","s":"1ML","T":978.6,"r":2.6},{"c":"0.00","s":"1ML","T":988.8,"r":3.37},{"c":"0.00","s":"1ML","T":1001.5,"r":4.52},{"c":"0.00","s":"1ML","T":1011.7,"r":6.05},{"c":"0.00","s":"1ML","T":1021.9,"r":8.34},{"c":"0.00","s":"1ML","T":1032.1,"r":11.02},{"c":"0.00","s":"1ML","T":1039.8,"r":13.7},{"c":"0.00","s":"1ML","T":1044.9,"r":15.42},{"c":"0.00","s":"1ML","T":1048.7,"r":15.8},{"c":"0.00","s":"1ML","T":1053.8,"r":14.66},{"c":"0.00","s":"1ML","T":1057.7,"r":12.36},{"c":"0.00","s":"1ML","T":1062.8,"r":8.72},{"c":"0.00","s":"1ML","T":1067.9,"r":5.66},{"c":"0.00","s":"1ML","T":1075.5,"r":2.79},{"c":"0.00","s":"1ML","T":1085.7,"r":1.45},{"c":"0.00","s":"1ML","T":1098.5,"r":0.61},{"c":"0.00","s":"1ML","T":1111.2,"r":0.11},{"c":"0.00","s":"1ML","T":1118.9,"r":0},{"c":"0.00","s":"1ML","T":1200,"r":0}
],
"tl_lab": [
{"t":"Θ(Cu) [ML]","T":805.6,"r":18.6,"k":"cu","h":"head"},{"t":"1.00","T":805.6,"r":16.68,"k":"cu","h":"val"},{"t":"0.63","T":805.6,"r":13.43,"k":"cu","h":"val"},{"t":"0.43","T":805.6,"r":10.31,"k":"cu","h":"val"},{"t":"0.24","T":805.6,"r":7.03,"k":"cu","h":"val"},{"t":"0.10","T":805.6,"r":3.78,"k":"cu","h":"val"},{"t":"0.00","T":805.6,"r":0.71,"k":"cu","h":"val"},
{"t":"Θ₀(Ag) [ML]","T":1193,"r":18.6,"k":"ag","h":"head"},{"t":"0.25","T":1195,"r":16.68,"k":"ag","h":"val"}
],
"tr_lab": [
{"t":"Θ(Cu) [ML]","T":814,"r":37.19,"k":"cu","h":"head"},{"t":"1.00","T":814,"r":33.16,"k":"cu","h":"val"},{"t":"0.80","T":814,"r":28.6,"k":"cu","h":"val"},{"t":"0.63","T":814,"r":23.88,"k":"cu","h":"val"},{"t":"0.54","T":814,"r":19.29,"k":"cu","h":"val"},{"t":"0.43","T":814,"r":14.62,"k":"cu","h":"val"},{"t":"0.24","T":814,"r":9.64,"k":"cu","h":"val"},{"t":"0.10","T":814,"r":5.43,"k":"cu","h":"val"},{"t":"0.00","T":814,"r":1.1,"k":"cu","h":"val"},
{"t":"Θ₀(Ag) [ML]","T":1193,"r":37.19,"k":"ag","h":"head"},{"t":"0.50","T":1195,"r":33.37,"k":"ag","h":"val"}
],
"bl_lab": [
{"t":"1.00","T":805.6,"r":41.71,"k":"cu","h":"val"},{"t":"0.63","T":805.6,"r":35.01,"k":"cu","h":"val"},{"t":"0.54","T":805.6,"r":28.06,"k":"cu","h":"val"},{"t":"0.43","T":805.6,"r":21.62,"k":"cu","h":"val"},{"t":"0.24","T":805.6,"r":14.92,"k":"cu","h":"val"},{"t":"0.10","T":805.6,"r":8.48,"k":"cu","h":"val"},{"t":"0.00","T":805.6,"r":2.1,"k":"cu","h":"val"},
{"t":"0.75","T":1195,"r":41.71,"k":"ag","h":"val"}
],
"br_lab": [
{"t":"1.00","T":814,"r":49.74,"k":"cu","h":"val"},{"t":"0.80","T":814,"r":41.44,"k":"cu","h":"val"},{"t":"0.63","T":814,"r":33.41,"k":"cu","h":"val"},{"t":"0.43","T":814,"r":25.75,"k":"cu","h":"val"},{"t":"0.24","T":814,"r":17.33,"k":"cu","h":"val"},{"t":"0.10","T":814,"r":9.3,"k":"cu","h":"val"},{"t":"0.00","T":814,"r":1.65,"k":"cu","h":"val"},
{"t":"1.00","T":1193.5,"r":49.97,"k":"ag","h":"val"}
]
},
"concat": [
{
"width": 899, "height": 1091,
"layer": [
{"data": {"name": "tl"}, "transform": [{"filter": "datum.s === 'o'"}],
 "mark": {"type": "line", "interpolate": "monotone", "color": "#000", "strokeWidth": 3.5},
 "encoding": {
  "x": {"field": "T", "type": "quantitative", "scale": {"domain": [800, 1200], "nice": false, "zero": false},
   "axis": {"values": [800,850,900,950,1000,1050,1100,1150,1200], "labels": false, "title": null,
    "tickSize": {"condition": {"test": "datum.value % 100 === 0", "value": 18}, "value": 10},
    "grid": true, "gridColor": "#a8a8a8", "gridWidth": 1.5,
    "gridOpacity": {"condition": {"test": "datum.value % 100 === 0 && datum.value > 800 && datum.value < 1200", "value": 1}, "value": 0}}},
  "y": {"field": "r", "type": "quantitative", "scale": {"domain": [0, 20], "nice": false},
   "axis": {"values": [0,2,4,6,8,10,12,14,16,18,20], "format": "d",
    "labelExpr": "datum.value % 4 === 0 ? datum.label : ''",
    "tickSize": {"condition": {"test": "datum.value % 4 === 0", "value": 18}, "value": 10},
    "labelPadding": 12, "labelFontSize": 47,
    "title": "Rate [10⁻³ML/K]", "titleX": -136, "titleY": 1112, "titleAngle": -90, "titleAlign": "center", "titleBaseline": "middle", "titleFontSize": 70}},
  "detail": {"field": "c", "type": "nominal"}}},
{"data": {"values": [{}]},
 "mark": {"type": "rect", "fill": "#000", "clip": false},
 "encoding": {"x": {"datum": 1042.97, "type": "quantitative", "scale": {"domain": [800, 1200], "nice": false, "zero": false}}, "x2": {"datum": 1318.37},
  "y": {"datum": 21.17, "type": "quantitative", "scale": {"domain": [0, 20], "nice": false}, "axis": null}, "y2": {"datum": 22.27}}},
{"data": {"values": [{}]},
 "mark": {"type": "rect", "fill": "#fff", "stroke": "#000", "strokeWidth": 3, "clip": false},
 "encoding": {"x": {"datum": 1040.3, "type": "quantitative", "scale": {"domain": [800, 1200], "nice": false, "zero": false}}, "x2": {"datum": 1315.7},
  "y": {"datum": 21.28, "type": "quantitative", "scale": {"domain": [0, 20], "nice": false}, "axis": null}, "y2": {"datum": 22.38}}},
{"data": {"values": [{}]},
 "mark": {"type": "text", "fontSize": 39, "align": "center", "baseline": "middle", "color": "#000", "clip": false},
 "encoding": {"x": {"datum": 1177.5, "type": "quantitative", "scale": {"domain": [800, 1200], "nice": false, "zero": false}},
  "y": {"datum": 21.83, "type": "quantitative", "scale": {"domain": [0, 20], "nice": false}, "axis": null},
  "text": {"value": "TDS Ag/Cu-Re(0001), β=4.1K/s"}}},
{"data": {"name": "tl"}, "transform": [{"filter": "datum.s === '1ML'"}],
 "mark": {"type": "line", "interpolate": "monotone", "color": "#ff0000", "strokeWidth": 7},
 "encoding": {
  "x": {"field": "T", "type": "quantitative", "scale": {"domain": [800, 1200], "nice": false, "zero": false}},
  "y": {"field": "r", "type": "quantitative", "scale": {"domain": [0, 20], "nice": false}, "axis": null},
  "detail": {"field": "c", "type": "nominal"}}},
{"data": {"name": "tl_lab"}, "transform": [{"filter": "datum.k === 'cu'"}],
 "mark": {"type": "text", "align": "left", "baseline": "alphabetic", "color": "#ff0000"},
 "encoding": {
  "x": {"field": "T", "type": "quantitative", "scale": {"domain": [800, 1200], "nice": false, "zero": false}},
  "y": {"field": "r", "type": "quantitative", "scale": {"domain": [0, 20], "nice": false},
   "axis": {"orient": "right", "values": [0,2,4,6,8,10,12,14,16,18,20], "labels": false, "title": null,
    "tickSize": {"condition": {"test": "datum.value % 4 === 0", "value": -18}, "value": -10}}},
  "text": {"field": "t"},
  "size": {"condition": {"test": "datum.h === 'head'", "value": 58}, "value": 50}}},
{"data": {"name": "tl_lab"}, "transform": [{"filter": "datum.k === 'ag'"}],
 "mark": {"type": "text", "align": "right", "baseline": "alphabetic", "color": "#0000ff"},
 "encoding": {
  "x": {"field": "T", "type": "quantitative", "scale": {"domain": [800, 1200], "nice": false, "zero": false}},
  "y": {"field": "r", "type": "quantitative", "scale": {"domain": [0, 20], "nice": false}, "axis": null},
  "text": {"field": "t"},
  "size": {"condition": {"test": "datum.h === 'head'", "value": 58}, "value": 50}}}
],
"resolve": {"axis": {"y": "independent"}}
},
{
"width": 899, "height": 1091,
"layer": [
{"data": {"name": "tr"}, "transform": [{"filter": "datum.s === 'o'"}],
 "mark": {"type": "line", "interpolate": "monotone", "color": "#000", "strokeWidth": 3.5},
 "encoding": {
  "x": {"field": "T", "type": "quantitative", "scale": {"domain": [800, 1200], "nice": false, "zero": false},
   "axis": {"values": [800,850,900,950,1000,1050,1100,1150,1200], "labels": false, "title": null,
    "tickSize": {"condition": {"test": "datum.value % 100 === 0", "value": 18}, "value": 10},
    "grid": true, "gridColor": "#a8a8a8", "gridWidth": 1.5,
    "gridOpacity": {"condition": {"test": "datum.value % 100 === 0 && datum.value > 800 && datum.value < 1200", "value": 1}, "value": 0}}},
  "y": {"field": "r", "type": "quantitative", "scale": {"domain": [0, 40], "nice": false},
   "axis": {"orient": "right", "values": [0,4,8,12,16,20,24,28,32,36,40], "format": "d",
    "labelExpr": "datum.value % 8 === 0 ? datum.label : ''",
    "tickSize": {"condition": {"test": "datum.value % 8 === 0", "value": 18}, "value": 10},
    "labelPadding": 10, "labelFontSize": 47, "title": null}},
  "detail": {"field": "c", "type": "nominal"}}},
{"data": {"name": "tr"}, "transform": [{"filter": "datum.s === '1ML'"}],
 "mark": {"type": "line", "interpolate": "monotone", "color": "#ff0000", "strokeWidth": 7},
 "encoding": {
  "x": {"field": "T", "type": "quantitative", "scale": {"domain": [800, 1200], "nice": false, "zero": false}},
  "y": {"field": "r", "type": "quantitative", "scale": {"domain": [0, 40], "nice": false}},
  "detail": {"field": "c", "type": "nominal"}}},
{"data": {"name": "tr_lab"}, "transform": [{"filter": "datum.k === 'cu'"}],
 "mark": {"type": "text", "align": "left", "baseline": "alphabetic", "color": "#ff0000"},
 "encoding": {
  "x": {"field": "T", "type": "quantitative", "scale": {"domain": [800, 1200], "nice": false, "zero": false}},
  "y": {"field": "r", "type": "quantitative", "scale": {"domain": [0, 40], "nice": false}},
  "text": {"field": "t"},
  "size": {"condition": {"test": "datum.h === 'head'", "value": 58}, "value": 50}}},
{"data": {"name": "tr_lab"}, "transform": [{"filter": "datum.k === 'ag'"}],
 "mark": {"type": "text", "align": "right", "baseline": "alphabetic", "color": "#0000ff"},
 "encoding": {
  "x": {"field": "T", "type": "quantitative", "scale": {"domain": [800, 1200], "nice": false, "zero": false}},
  "y": {"field": "r", "type": "quantitative", "scale": {"domain": [0, 40], "nice": false}},
  "text": {"field": "t"},
  "size": {"condition": {"test": "datum.h === 'head'", "value": 58}, "value": 50}}}
]
},
{
"width": 899, "height": 1091,
"layer": [
{"data": {"name": "bl"}, "transform": [{"filter": "datum.s === 'o'"}],
 "mark": {"type": "line", "interpolate": "monotone", "color": "#000", "strokeWidth": 3.5},
 "encoding": {
  "x": {"field": "T", "type": "quantitative", "scale": {"domain": [800, 1200], "nice": false, "zero": false},
   "axis": {"values": [800,850,900,950,1000,1050,1100,1150,1200], "format": "d",
    "labelExpr": "datum.value % 100 === 0 && datum.value < 1200 ? datum.label : ''",
    "tickSize": {"condition": {"test": "datum.value % 100 === 0", "value": 18}, "value": 10},
    "labelPadding": 12, "labelFontSize": 46,
    "grid": true, "gridColor": "#a8a8a8", "gridWidth": 1.5,
    "gridOpacity": {"condition": {"test": "datum.value % 100 === 0 && datum.value > 800 && datum.value < 1200", "value": 1}, "value": 0},
    "title": "T [K]", "titleX": 824, "titleY": 156, "titleAlign": "center", "titleBaseline": "alphabetic", "titleFontSize": 62}},
  "y": {"field": "r", "type": "quantitative", "scale": {"domain": [0, 50], "nice": false},
   "axis": {"values": [0,5,10,15,20,25,30,35,40,45,50], "format": "d",
    "labelExpr": "datum.value % 10 === 0 && datum.value < 50 ? datum.label : ''",
    "tickSize": {"condition": {"test": "datum.value % 10 === 0", "value": 18}, "value": 10},
    "labelPadding": 12, "labelFontSize": 47, "title": null}},
  "detail": {"field": "c", "type": "nominal"}}},
{"data": {"name": "bl"}, "transform": [{"filter": "datum.s === '1ML'"}],
 "mark": {"type": "line", "interpolate": "monotone", "color": "#ff0000", "strokeWidth": 7},
 "encoding": {
  "x": {"field": "T", "type": "quantitative", "scale": {"domain": [800, 1200], "nice": false, "zero": false}},
  "y": {"field": "r", "type": "quantitative", "scale": {"domain": [0, 50], "nice": false}, "axis": null},
  "detail": {"field": "c", "type": "nominal"}}},
{"data": {"name": "bl_lab"}, "transform": [{"filter": "datum.k === 'cu'"}],
 "mark": {"type": "text", "align": "left", "baseline": "alphabetic", "color": "#ff0000", "fontSize": 50},
 "encoding": {
  "x": {"field": "T", "type": "quantitative", "scale": {"domain": [800, 1200], "nice": false, "zero": false}},
  "y": {"field": "r", "type": "quantitative", "scale": {"domain": [0, 50], "nice": false},
   "axis": {"orient": "right", "values": [0,5,10,15,20,25,30,35,40,45,50], "labels": false, "title": null,
    "tickSize": {"condition": {"test": "datum.value % 10 === 0", "value": -18}, "value": -10}}},
  "text": {"field": "t"}}},
{"data": {"name": "bl_lab"}, "transform": [{"filter": "datum.k === 'ag'"}],
 "mark": {"type": "text", "align": "right", "baseline": "alphabetic", "color": "#0000ff", "fontSize": 50},
 "encoding": {
  "x": {"field": "T", "type": "quantitative", "scale": {"domain": [800, 1200], "nice": false, "zero": false}},
  "y": {"field": "r", "type": "quantitative", "scale": {"domain": [0, 50], "nice": false}, "axis": null},
  "text": {"field": "t"}}}
],
"resolve": {"axis": {"y": "independent"}}
},
{
"width": 899, "height": 1091,
"layer": [
{"data": {"name": "br"}, "transform": [{"filter": "datum.s === 'o'"}],
 "mark": {"type": "line", "interpolate": "monotone", "color": "#000", "strokeWidth": 3.5},
 "encoding": {
  "x": {"field": "T", "type": "quantitative", "scale": {"domain": [800, 1200], "nice": false, "zero": false},
   "axis": {"values": [800,850,900,950,1000,1050,1100,1150,1200], "format": "d",
    "labelExpr": "datum.value % 100 === 0 ? datum.label : ''",
    "tickSize": {"condition": {"test": "datum.value % 100 === 0", "value": 18}, "value": 10},
    "labelPadding": 12, "labelFontSize": 46,
    "grid": true, "gridColor": "#a8a8a8", "gridWidth": 1.5,
    "gridOpacity": {"condition": {"test": "datum.value % 100 === 0 && datum.value > 800 && datum.value < 1200", "value": 1}, "value": 0},
    "title": null}},
  "y": {"field": "r", "type": "quantitative", "scale": {"domain": [0, 60], "nice": false},
   "axis": {"orient": "right", "values": [0,6,12,18,24,30,36,42,48,54,60], "format": "d",
    "labelExpr": "datum.value % 12 === 0 && datum.value < 60 ? datum.label : ''",
    "tickSize": {"condition": {"test": "datum.value % 12 === 0", "value": 18}, "value": 10},
    "labelPadding": 10, "labelFontSize": 47, "title": null}},
  "detail": {"field": "c", "type": "nominal"}}},
{"data": {"name": "br"}, "transform": [{"filter": "datum.s === '1ML'"}],
 "mark": {"type": "line", "interpolate": "monotone", "strokeWidth": 7},
 "encoding": {
  "x": {"field": "T", "type": "quantitative", "scale": {"domain": [800, 1200], "nice": false, "zero": false}},
  "y": {"field": "r", "type": "quantitative", "scale": {"domain": [0, 60], "nice": false}},
  "detail": {"field": "c", "type": "nominal"},
  "color": {"field": "s", "type": "nominal", "scale": {"domain": ["1ML"], "range": ["#ff0000"]},
   "legend": {"orient": "none", "legendX": 1080, "legendY": 2234, "title": null, "padding": 0,
    "symbolType": "stroke", "symbolSize": 22500, "symbolStrokeWidth": 7,
    "labelFontSize": 63, "labelColor": "#000", "labelOffset": 20, "labelLimit": 2000,
    "labelExpr": "'Θ₀ (Ag)+Θ(Cu)=1ML'"}}}},
{"data": {"name": "br_lab"}, "transform": [{"filter": "datum.k === 'cu'"}],
 "mark": {"type": "text", "align": "left", "baseline": "alphabetic", "color": "#ff0000", "fontSize": 50},
 "encoding": {
  "x": {"field": "T", "type": "quantitative", "scale": {"domain": [800, 1200], "nice": false, "zero": false}},
  "y": {"field": "r", "type": "quantitative", "scale": {"domain": [0, 60], "nice": false}},
  "text": {"field": "t"}}},
{"data": {"name": "br_lab"}, "transform": [{"filter": "datum.k === 'ag'"}],
 "mark": {"type": "text", "align": "right", "baseline": "alphabetic", "color": "#0000ff", "fontSize": 50},
 "encoding": {
  "x": {"field": "T", "type": "quantitative", "scale": {"domain": [800, 1200], "nice": false, "zero": false}},
  "y": {"field": "r", "type": "quantitative", "scale": {"domain": [0, 60], "nice": false}},
  "text": {"field": "t"}}}
]
}
],
"config": {
 "font": "Liberation Sans",
 "view": {"stroke": "#000", "strokeWidth": 3},
 "axis": {"domainColor": "#000", "domainWidth": 3, "tickColor": "#000", "tickWidth": 3,
  "labelColor": "#000", "labelFont": "Liberation Sans", "labelFlush": false, "labelOverlap": false,
  "titleColor": "#000", "titleFont": "Liberation Sans", "titleFontWeight": "normal", "grid": false},
 "legend": {"labelFont": "Liberation Sans"}
}
}
